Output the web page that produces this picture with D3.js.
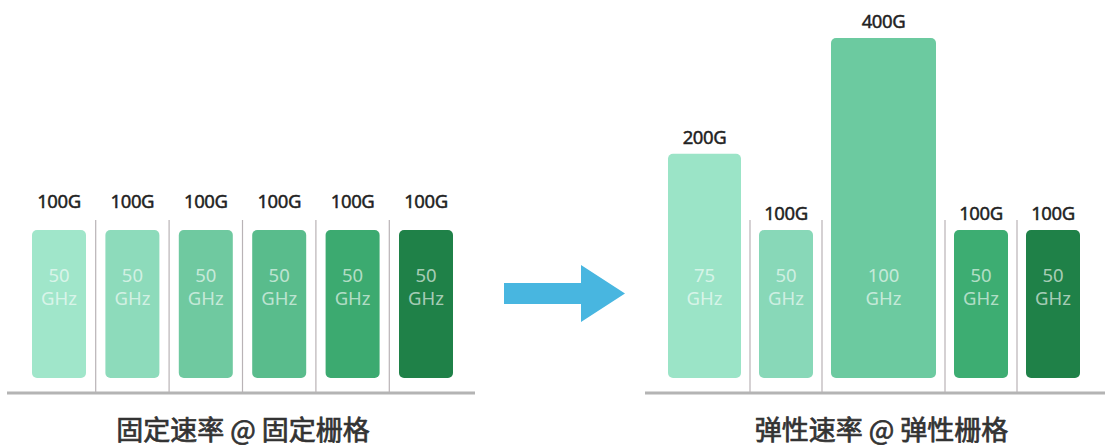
<!DOCTYPE html>
<html>
<head>
<meta charset="utf-8">
<script src="https://cdn.jsdelivr.net/npm/d3@7"></script>
<style>
  html, body { margin: 0; padding: 0; background: #ffffff; }
  svg { display: block; }
</style>
</head>
<body>
<svg id="chart" width="1105" height="446"></svg>
<script>
// Fixed rate on a fixed grid: six 100G channels, each 50 GHz wide
const fixedRates = [100, 100, 100, 100, 100, 100];
const fixedSpacing = [50, 50, 50, 50, 50, 50];

// Flexible rate on a flexible grid
const flexRates = [200, 100, 400, 100, 100];
const flexSpacing = [75, 50, 100, 50, 50];

const panelTitles = ["固定速率 @ 固定栅格", "弹性速率 @ 弹性栅格"];
const unitRate = "G";
const unitSpacing = "GHz";

// Channel fills, light to dark
const fixedColors = ["#a0e6ca", "#8ddbbb", "#6fc9a0", "#59bc8c", "#3caa70", "#1f8148"];
const flexColors = ["#9be4c7", "#88d8b8", "#6ccaa0", "#3dad72", "#1f8148"];

const svg = d3.select("#chart");

// Channel height grows with line rate (sub-linear), width with grid spacing
const heightScale = d3.scalePow().exponent(0.6).domain([0, 400]).range([0, 340]);
const widthScale = d3.scaleLinear().domain([50, 75, 100]).range([54, 73, 105]);

const barBottom = 378;
const axisY = 393;
const dividerTop = 220;

const panels = [
  { rates: fixedRates, spacing: fixedSpacing, colors: fixedColors, title: panelTitles[0],
    x0: 32, gap: 19.4, labelOffset: 22, axis: [7, 475], titleX: 243 },
  { rates: flexRates, spacing: flexSpacing, colors: flexColors, title: panelTitles[1],
    x0: 668, gap: 18, labelOffset: 10, axis: [645, 1105], titleX: 881.5 }
];

panels.forEach(p => {
  const g = svg.append("g");

  // lay channels side by side
  let cursor = p.x0;
  const items = p.rates.map((r, i) => {
    const w = widthScale(p.spacing[i]);
    const item = { rate: r, ghz: p.spacing[i], x: cursor, w: w, h: heightScale(r), color: p.colors[i] };
    cursor += w + p.gap;
    return item;
  });

  // baseline
  g.append("line")
    .attr("x1", p.axis[0]).attr("x2", p.axis[1])
    .attr("y1", axisY).attr("y2", axisY)
    .attr("stroke", "#b4b4b4").attr("stroke-width", 3);

  // dividers halfway between neighbouring channels
  const dividers = items.slice(1).map((d, i) => (items[i].x + items[i].w + d.x) / 2);
  g.selectAll("line.divider").data(dividers).join("line")
    .attr("class", "divider")
    .attr("x1", d => d).attr("x2", d => d)
    .attr("y1", dividerTop).attr("y2", axisY - 1)
    .attr("stroke", "#b9b3b6").attr("stroke-width", 1.2);

  // channels
  g.selectAll("rect.ch").data(items).join("rect")
    .attr("class", "ch")
    .attr("x", d => d.x).attr("width", d => d.w)
    .attr("y", d => barBottom - d.h).attr("height", d => d.h)
    .attr("rx", 5).attr("ry", 5)
    .attr("fill", d => d.color);

  // rate labels above each channel
  g.selectAll("text.rate").data(items).join("text")
    .attr("class", "rate")
    .attr("x", d => d.x + d.w / 2)
    .attr("y", d => barBottom - d.h - p.labelOffset)
    .attr("text-anchor", "middle")
    .attr("font-family", "'Noto Sans', 'Open Sans', sans-serif")
    .attr("font-size", 18.5)
    .attr("letter-spacing", -0.4)
    .attr("fill", "#222")
    .attr("stroke", "#222")
    .attr("stroke-width", 0.45)
    .text(d => d.rate + unitRate);

  // spacing labels inside each channel
  const inner = g.selectAll("text.ghz").data(items).join("text")
    .attr("class", "ghz")
    .attr("text-anchor", "middle")
    .attr("font-family", "'Noto Sans', 'Open Sans', sans-serif")
    .attr("font-size", 18.5)
    .attr("fill", "#ffffff")
    .attr("fill-opacity", 0.62);
  inner.append("tspan")
    .attr("x", d => d.x + d.w / 2).attr("y", 282)
    .text(d => d.ghz);
  inner.append("tspan")
    .attr("x", d => d.x + d.w / 2).attr("y", 305)
    .text(unitSpacing);

  // panel title
  g.append("text")
    .attr("x", p.titleX).attr("y", 439.5)
    .attr("text-anchor", "middle")
    .attr("font-family", "'Noto Sans CJK SC', sans-serif")
    .attr("font-size", 27)
    .attr("fill", "#333")
    .attr("stroke", "#333")
    .attr("stroke-width", 0.7)
    .text(p.title);
});

// transition arrow between the two panels
const arrow = d3.path();
arrow.moveTo(504, 283);
arrow.lineTo(581, 283);
arrow.lineTo(581, 265);
arrow.lineTo(625, 293.5);
arrow.lineTo(581, 322);
arrow.lineTo(581, 304);
arrow.lineTo(504, 304);
arrow.closePath();
svg.append("path").attr("d", arrow.toString()).attr("fill", "#48b6e0");
</script>
</body>
</html>
